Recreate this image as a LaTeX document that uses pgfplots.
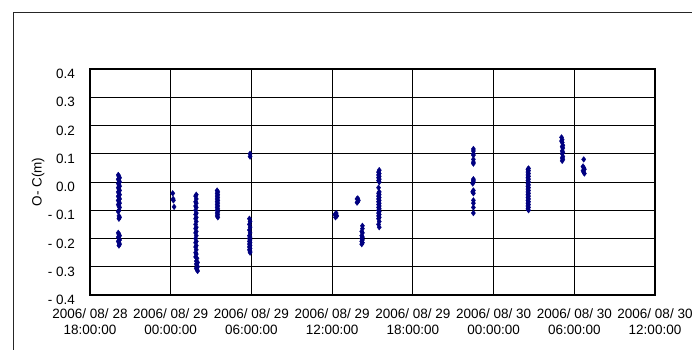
\documentclass[border=0pt]{standalone}
\usepackage{fontspec}
\setmainfont{Liberation Sans}
\usepackage{pgfplots}
\pgfplotsset{compat=1.18}
\definecolor{navy}{RGB}{0,0,128}
\begin{document}
\begin{tikzpicture}[x=1pt,y=1pt]
\useasboundingbox (0,0) rectangle (692,349);
\draw[line width=1pt, black!85] (13,-5) -- (13,336) -- (700,336);
\begin{axis}[at={(90pt,54pt)}, anchor=south west, scale only axis,
  width=565pt, height=226pt,
  xmin=0, xmax=42, ymin=-0.4, ymax=0.4,
  xtick={0,6,12,18,24,30,36,42},
  xticklabels={{2006/ 08/ 28\\18:00:00},{2006/ 08/ 29\\00:00:00},{2006/ 08/ 29\\06:00:00},{2006/ 08/ 29\\12:00:00},{2006/ 08/ 29\\18:00:00},{2006/ 08/ 30\\00:00:00},{2006/ 08/ 30\\06:00:00},{2006/ 08/ 30\\12:00:00}},
  ytick={-0.4,-0.3,-0.2,-0.1,0,0.1,0.2,0.3,0.4},
  yticklabels={- 0.4,- 0.3,- 0.2,- 0.1,0.0,0.1,0.2,0.3,0.4},
  grid=major, major grid style={black, line width=0.8pt},
  axis line style={black, line width=1.3pt},
  major tick length=0pt,
  font=\fontsize{13.5}{16}\selectfont,
  xticklabel style={align=center, anchor=north, inner sep=0pt, yshift=-14pt},
  yticklabel style={anchor=east, inner sep=0pt, xshift=-15pt, yshift=-5pt},
  ylabel={O- C(m)},
  ylabel style={at={(axis description cs:-0.092,0.5)}, anchor=center, rotate=0},
  clip=false,
]
\addplot[only marks, mark=diamond*, color=navy, mark size=2.8pt] coordinates {
(2.1,0.025)(2.15,0.02)(2.2,0.015)(2.1,0.01)(2.15,0.005)(2.2,0)(2.1,-0.005)(2.15,-0.01)(2.2,-0.015)(2.1,-0.02)(2.15,-0.025)(2.2,-0.03)(2.1,-0.035)(2.15,-0.04)(2.2,-0.045)(2.1,-0.05)(2.15,-0.055)(2.2,-0.06)(2.1,-0.065)(2.15,-0.07)(2.2,-0.075)(2.1,-0.08)(2.15,-0.085)(2.2,-0.09)(2.15,-0.1)(2.1,-0.105)(2.15,-0.12)(2.2,-0.125)(2.15,-0.13)
(2.1,-0.18)(2.15,-0.185)(2.2,-0.19)(2.1,-0.195)(2.15,-0.2)(2.2,-0.205)(2.1,-0.21)(2.15,-0.215)(2.2,-0.22)(2.15,-0.225)
(6.15,-0.04)(6.18,-0.06)(6.2,-0.065)(6.25,-0.088)
(7.9,-0.045)(7.85,-0.05)(7.9,-0.06)(7.85,-0.07)(7.9,-0.075)(7.85,-0.085)(7.9,-0.09)(7.85,-0.1)(7.9,-0.11)(7.85,-0.115)(7.9,-0.125)(7.85,-0.13)(7.9,-0.14)(7.85,-0.15)(7.9,-0.16)(7.85,-0.165)(7.9,-0.175)(7.85,-0.18)(7.9,-0.19)(7.85,-0.2)(7.9,-0.21)(7.85,-0.215)(7.9,-0.225)(7.85,-0.23)(7.9,-0.24)(7.85,-0.25)(7.9,-0.255)(7.85,-0.265)(7.95,-0.27)(7.9,-0.28)(8.0,-0.285)(7.9,-0.29)(7.95,-0.295)(8.0,-0.3)(7.9,-0.305)(7.95,-0.31)(8.0,-0.315)
(9.45,-0.03)(9.5,-0.035)(9.45,-0.04)(9.5,-0.045)(9.45,-0.05)(9.5,-0.055)(9.45,-0.06)(9.5,-0.065)(9.45,-0.07)(9.5,-0.075)(9.45,-0.08)(9.5,-0.085)(9.45,-0.09)(9.5,-0.095)(9.45,-0.1)(9.5,-0.105)(9.45,-0.11)(9.5,-0.115)(9.45,-0.12)(9.5,-0.125)
(11.9,0.1)(11.9,0.09)
(11.85,-0.13)(11.9,-0.14)(11.85,-0.15)(11.9,-0.16)(11.85,-0.17)(11.9,-0.18)(11.85,-0.19)(11.9,-0.195)(11.85,-0.2)(11.9,-0.205)(11.85,-0.21)(11.9,-0.215)(11.85,-0.22)(11.9,-0.225)(11.85,-0.23)(11.9,-0.235)(11.85,-0.24)(11.9,-0.245)(11.9,-0.25)
(18.2,-0.115)(18.3,-0.11)(18.35,-0.12)(18.25,-0.125)(18.3,-0.118)
(19.85,-0.06)(19.9,-0.058)(19.95,-0.065)(19.9,-0.07)(19.85,-0.073)
(20.25,-0.155)(20.25,-0.165)(20.2,-0.175)(20.25,-0.18)(20.2,-0.19)(20.25,-0.195)(20.2,-0.2)(20.25,-0.205)(20.2,-0.21)(20.25,-0.215)(20.2,-0.22)
(21.5,0.042)(21.45,0.035)(21.5,0.03)(21.45,0.025)(21.5,0.02)(21.45,0.015)(21.5,0.01)(21.45,0.005)(21.5,0.0)(21.45,-0.02)(21.5,-0.035)(21.45,-0.04)(21.5,-0.045)(21.45,-0.05)(21.5,-0.055)(21.45,-0.06)(21.5,-0.065)(21.45,-0.07)(21.5,-0.075)(21.45,-0.08)(21.5,-0.085)(21.45,-0.09)(21.5,-0.095)(21.45,-0.1)(21.5,-0.105)(21.45,-0.11)(21.5,-0.115)(21.45,-0.12)(21.5,-0.125)(21.45,-0.13)(21.5,-0.14)(21.45,-0.15)(21.5,-0.16)
(28.5,0.117)(28.5,0.11)(28.5,0.1)(28.5,0.095)(28.5,0.08)(28.5,0.07)(28.5,0.065)(28.5,0.01)(28.5,0.005)(28.5,0.0)(28.45,-0.005)(28.5,-0.03)(28.45,-0.035)(28.5,-0.04)(28.5,-0.065)(28.5,-0.075)(28.5,-0.09)(28.5,-0.11)
(32.6,0.048)(32.55,0.045)(32.6,0.04)(32.55,0.035)(32.6,0.03)(32.55,0.025)(32.6,0.02)(32.55,0.015)(32.6,0.01)(32.55,0.005)(32.6,0)(32.55,-0.005)(32.6,-0.01)(32.55,-0.015)(32.6,-0.02)(32.55,-0.025)(32.6,-0.03)(32.55,-0.035)(32.6,-0.04)(32.55,-0.045)(32.6,-0.05)(32.55,-0.055)(32.6,-0.06)(32.55,-0.065)(32.6,-0.07)(32.55,-0.075)(32.6,-0.08)(32.55,-0.085)(32.6,-0.09)(32.55,-0.095)(32.6,-0.1)
(35.05,0.158)(35.1,0.15)(35.05,0.145)(35.1,0.14)(35.15,0.13)(35.1,0.125)(35.15,0.12)(35.1,0.11)(35.15,0.105)(35.1,0.1)(35.15,0.09)(35.1,0.085)(35.15,0.08)(35.1,0.075)
(36.7,0.08)(36.65,0.055)(36.7,0.05)(36.75,0.045)(36.65,0.04)(36.7,0.035)(36.75,0.03)
};
\end{axis}
\end{tikzpicture}
\end{document}
